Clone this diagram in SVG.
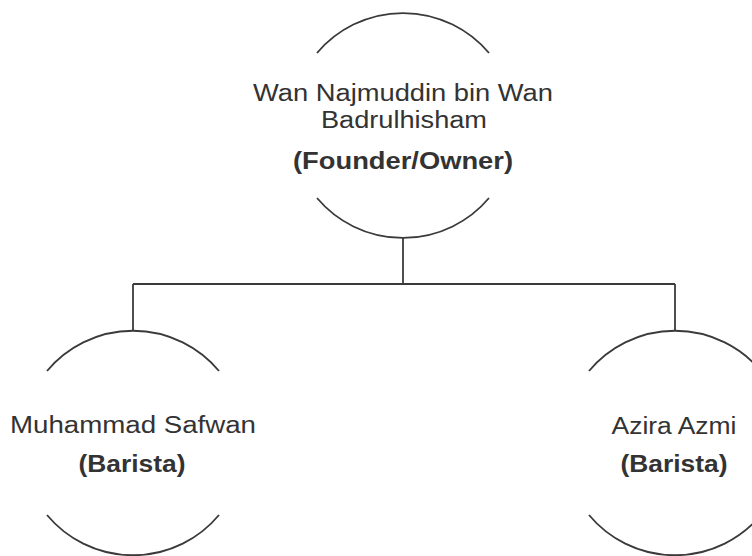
<svg xmlns="http://www.w3.org/2000/svg" width="752" height="556" viewBox="0 0 752 556">
  <style>
    .arc { fill: none; stroke: #3a3a3a; stroke-width: 1.8; }
    .conn { fill: none; stroke: #3a3a3a; stroke-width: 1.8; }
    .t { font-family: "Liberation Sans", Arial, sans-serif; font-size: 23px; fill: #333; text-anchor: middle; }
    .b { font-weight: bold; }
  </style>
  <rect width="752" height="556" fill="#ffffff"/>
  <g id="connectors">
    <path class="conn" d="M403,238 V284"/>
    <path class="conn" d="M133,284 H675"/>
    <path class="conn" d="M133,284 V331"/>
    <path class="conn" d="M675,284 V331"/>
  </g>
  <g id="node-founder">
    <path class="arc" d="M317,53 A112.5,112.5 0 0 1 489,53"/>
    <path class="arc" d="M317,198 A112.5,112.5 0 0 0 489,198"/>
    <text class="t" x="403" y="101" textLength="300" lengthAdjust="spacingAndGlyphs">Wan Najmuddin bin Wan</text>
    <text class="t" x="404" y="128" textLength="166" lengthAdjust="spacingAndGlyphs">Badrulhisham</text>
    <text class="t b" x="403" y="169" textLength="220" lengthAdjust="spacingAndGlyphs">(Founder/Owner)</text>
  </g>
  <g id="node-safwan">
    <path class="arc" d="M47,371 A112,112 0 0 1 219,371"/>
    <path class="arc" d="M47,515 A112,112 0 0 0 219,515"/>
    <text class="t" x="133" y="433" textLength="246" lengthAdjust="spacingAndGlyphs">Muhammad Safwan</text>
    <text class="t b" x="132" y="472" textLength="107" lengthAdjust="spacingAndGlyphs">(Barista)</text>
  </g>
  <g id="node-azira">
    <path class="arc" d="M589,371 A112,112 0 0 1 761,371"/>
    <path class="arc" d="M589,515 A112,112 0 0 0 761,515"/>
    <text class="t" x="674" y="434" textLength="125" lengthAdjust="spacingAndGlyphs">Azira Azmi</text>
    <text class="t b" x="674" y="472" textLength="107" lengthAdjust="spacingAndGlyphs">(Barista)</text>
  </g>
</svg>
